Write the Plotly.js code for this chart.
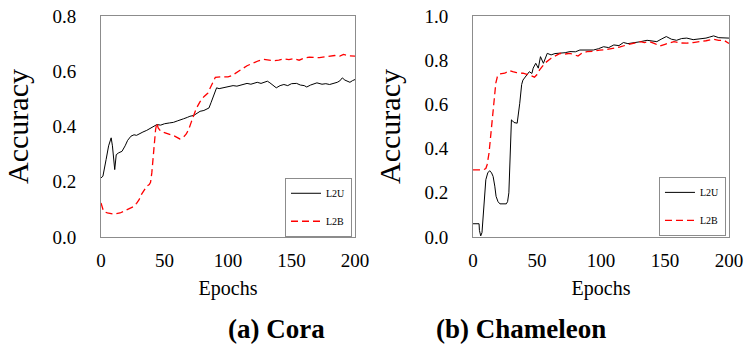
<!DOCTYPE html>
<html>
<head>
<meta charset="utf-8">
<script src="https://cdn.plot.ly/plotly-3.0.1.min.js"></script>
<style>
  html, body { margin: 0; padding: 0; background: #fff; }
  #chart { width: 747px; height: 361px; }
</style>
</head>
<body>
<div id="chart"></div>
<script>
// (a) Cora
const coraEpochsU = [0, 1.5, 4, 6, 8, 9, 10.8, 12, 14, 16.5, 19, 21, 23.6, 26, 28, 31, 33, 36, 39, 41, 44, 47, 50, 54, 57, 60, 62.5, 65, 68, 70, 73, 76, 78, 81, 83, 85, 86.6, 89, 91, 93, 96, 100, 104, 107, 110, 113, 115, 118, 121, 123, 126, 129, 131, 133, 135, 138, 141, 144, 147, 150, 154, 157, 160, 162, 165, 168, 170, 174, 177, 180, 183, 186, 188, 190, 192, 194, 196, 198, 200];
const coraL2U = [0.214, 0.22, 0.28, 0.33, 0.359, 0.33, 0.244, 0.298, 0.305, 0.31, 0.33, 0.35, 0.365, 0.37, 0.368, 0.377, 0.38, 0.386, 0.395, 0.398, 0.407, 0.405, 0.41, 0.413, 0.415, 0.42, 0.425, 0.428, 0.433, 0.437, 0.44, 0.45, 0.455, 0.458, 0.462, 0.467, 0.486, 0.516, 0.54, 0.537, 0.54, 0.543, 0.548, 0.546, 0.55, 0.552, 0.556, 0.553, 0.558, 0.56, 0.556, 0.562, 0.564, 0.558, 0.552, 0.54, 0.548, 0.552, 0.548, 0.555, 0.556, 0.55, 0.548, 0.543, 0.55, 0.555, 0.558, 0.553, 0.555, 0.552, 0.555, 0.56, 0.565, 0.576, 0.568, 0.564, 0.56, 0.566, 0.57];

const coraEpochsB = [0, 2, 5, 10, 15, 20, 23, 26, 28, 30, 32, 34, 36, 38, 39, 40, 41, 42, 43, 44, 45, 47, 50, 55, 58, 62, 65, 67, 69, 71, 73, 75, 78, 81, 84, 86, 88, 90, 95, 100, 103, 105, 107, 110, 112, 115, 118, 120, 124, 128, 132, 136, 140, 144, 148, 152, 156, 160, 164, 168, 172, 176, 180, 184, 188, 191, 195, 200];
const coraL2B = [0.123, 0.093, 0.087, 0.083, 0.087, 0.099, 0.105, 0.111, 0.122, 0.135, 0.155, 0.171, 0.184, 0.19, 0.198, 0.232, 0.29, 0.353, 0.39, 0.413, 0.395, 0.383, 0.378, 0.371, 0.365, 0.355, 0.362, 0.372, 0.389, 0.415, 0.443, 0.465, 0.49, 0.508, 0.52, 0.54, 0.562, 0.578, 0.58, 0.58, 0.584, 0.59, 0.594, 0.605, 0.612, 0.62, 0.626, 0.63, 0.638, 0.643, 0.64, 0.638, 0.64, 0.645, 0.642, 0.646, 0.64, 0.648, 0.651, 0.65, 0.649, 0.652, 0.655, 0.657, 0.655, 0.661, 0.656, 0.655];

// (b) Chameleon
const chamEpochsU = [0, 4.7, 5, 6, 7, 8, 9, 10, 11.5, 13, 14.5, 15.7, 17, 18, 19.5, 21, 26, 27, 28, 29, 30, 31, 32, 34.5, 35.5, 36.5, 38, 39, 42, 44, 46, 47, 49, 51, 52.7, 55, 58, 61, 64, 68, 72, 75.7, 80, 83.5, 88, 94, 98, 102, 106, 110, 114, 117.5, 121, 125, 130, 136, 140, 143.6, 147, 151, 155, 159, 163, 167, 172, 177.5, 182, 185, 188, 192, 196, 200];
const chamL2U = [0.06, 0.06, 0.03, 0.005, 0.02, 0.1, 0.19, 0.259, 0.29, 0.3, 0.29, 0.274, 0.23, 0.184, 0.16, 0.15, 0.15, 0.16, 0.2, 0.37, 0.53, 0.525, 0.518, 0.515, 0.55, 0.605, 0.69, 0.71, 0.733, 0.748, 0.74, 0.764, 0.786, 0.764, 0.816, 0.786, 0.831, 0.824, 0.83, 0.831, 0.834, 0.839, 0.838, 0.846, 0.845, 0.846, 0.852, 0.861, 0.857, 0.869, 0.866, 0.88, 0.875, 0.88, 0.883, 0.89, 0.886, 0.884, 0.895, 0.907, 0.895, 0.89, 0.898, 0.9, 0.893, 0.895, 0.9, 0.905, 0.91, 0.902, 0.9, 0.9];

const chamEpochsB = [0, 8, 10, 11, 12.5, 13.6, 15.7, 17, 17.8, 19, 20.4, 24.8, 28.7, 31, 34, 39, 44, 48, 50, 52, 56, 61, 64, 68, 72, 75.7, 79, 82, 85, 89, 94, 99, 104, 110, 115, 120, 125, 130.5, 134, 138, 142, 146, 150, 154, 157, 162, 167, 172, 177.5, 182, 188, 192, 196, 200];
const chamL2B = [0.304, 0.304, 0.31, 0.327, 0.38, 0.44, 0.575, 0.65, 0.696, 0.725, 0.738, 0.741, 0.753, 0.748, 0.744, 0.741, 0.733, 0.723, 0.735, 0.756, 0.786, 0.809, 0.818, 0.831, 0.828, 0.831, 0.825, 0.819, 0.832, 0.839, 0.84, 0.846, 0.848, 0.854, 0.86, 0.869, 0.875, 0.884, 0.88, 0.884, 0.875, 0.864, 0.872, 0.88, 0.884, 0.878, 0.877, 0.88, 0.884, 0.888, 0.895, 0.89, 0.89, 0.876];

const xTicks = [0, 50, 100, 150, 200];
const seriesNames = ['L2U', 'L2B'];
const panelTitles = ['<b>(a) Cora</b>', '<b>(b) Chameleon</b>'];

const SERIF = 'Liberation Serif, Times New Roman, serif';
const FRAME = '#8c8c8c';

function line(x, y, name, xa, ya, legend, isB) {
  return {
    x: x, y: y, name: name, xaxis: xa, yaxis: ya, legend: legend,
    legendgroup: legend + name,
    type: 'scatter', mode: 'lines',
    line: isB ? {color: '#ff0000', width: 1.3, dash: '7px,4px'} : {color: '#000000', width: 1},
    hoverinfo: 'skip'
  };
}

let traces = [
  line(coraEpochsU, coraL2U, seriesNames[0], 'x', 'y', 'legend', false),
  line(coraEpochsB, coraL2B, seriesNames[1], 'x', 'y', 'legend', true),
  line(chamEpochsU, chamL2U, seriesNames[0], 'x2', 'y2', 'legend2', false),
  line(chamEpochsB, chamL2B, seriesNames[1], 'x2', 'y2', 'legend2', true)
];

function xaxis(domain, anchor) {
  return {
    domain: domain, anchor: anchor, range: [0, 200],
    tickvals: xTicks, ticks: '', showgrid: false, zeroline: false,
    showline: true, linecolor: FRAME, linewidth: 1, mirror: true,
    ticklabelstandoff: 6,
    tickfont: {family: SERIF, size: 19, color: '#000'},
    title: {text: 'Epochs', font: {family: SERIF, size: 20, color: '#000'}, standoff: 11}
  };
}

function yaxis(anchor, top) {
  return {
    domain: [0, 1], anchor: anchor, range: [0, top], dtick: 0.2, tickformat: '.1f',
    ticks: '', showgrid: false, zeroline: false,
    showline: true, linecolor: FRAME, linewidth: 1, mirror: true,
    ticklabelstandoff: 20,
    tickfont: {family: SERIF, size: 19, color: '#000'},
    title: {text: 'Accuracy', font: {family: SERIF, size: 30, color: '#000'}, standoff: 14}
  };
}

function legendBox(x, y) {
  return {
    x: x, y: y, xanchor: 'left', yanchor: 'top',
    bgcolor: 'rgba(255,255,255,0)', bordercolor: FRAME, borderwidth: 1,
    font: {family: SERIF, size: 10, color: '#000'},
    tracegroupgap: 9, itemwidth: 30
  };
}

let layout = {
  width: 747, height: 361,
  margin: {l: 101, r: 18, t: 16, b: 124},
  paper_bgcolor: '#fff', plot_bgcolor: '#fff',
  showlegend: true,
  xaxis: xaxis([0, 0.4045], 'y'),
  yaxis: yaxis('x', 0.8),
  xaxis2: xaxis([0.5924, 1], 'y2'),
  yaxis2: yaxis('x2', 1.0),
  legend: legendBox(0.293, 0.268),
  legend2: legendBox(0.8885, 0.272),
  annotations: [
    {text: panelTitles[0], xref: 'paper', yref: 'paper', x: 0.199, y: -0.416, yanchor: 'middle',
     showarrow: false, font: {family: SERIF, size: 27, color: '#000'}},
    {text: panelTitles[1], xref: 'paper', yref: 'paper', x: 0.807, y: -0.416, yanchor: 'middle',
     showarrow: false, font: {family: SERIF, size: 27, color: '#000'}}
  ]
};

Plotly.newPlot('chart', traces, layout, {displayModeBar: false, staticPlot: true});
</script>
</body>
</html>
